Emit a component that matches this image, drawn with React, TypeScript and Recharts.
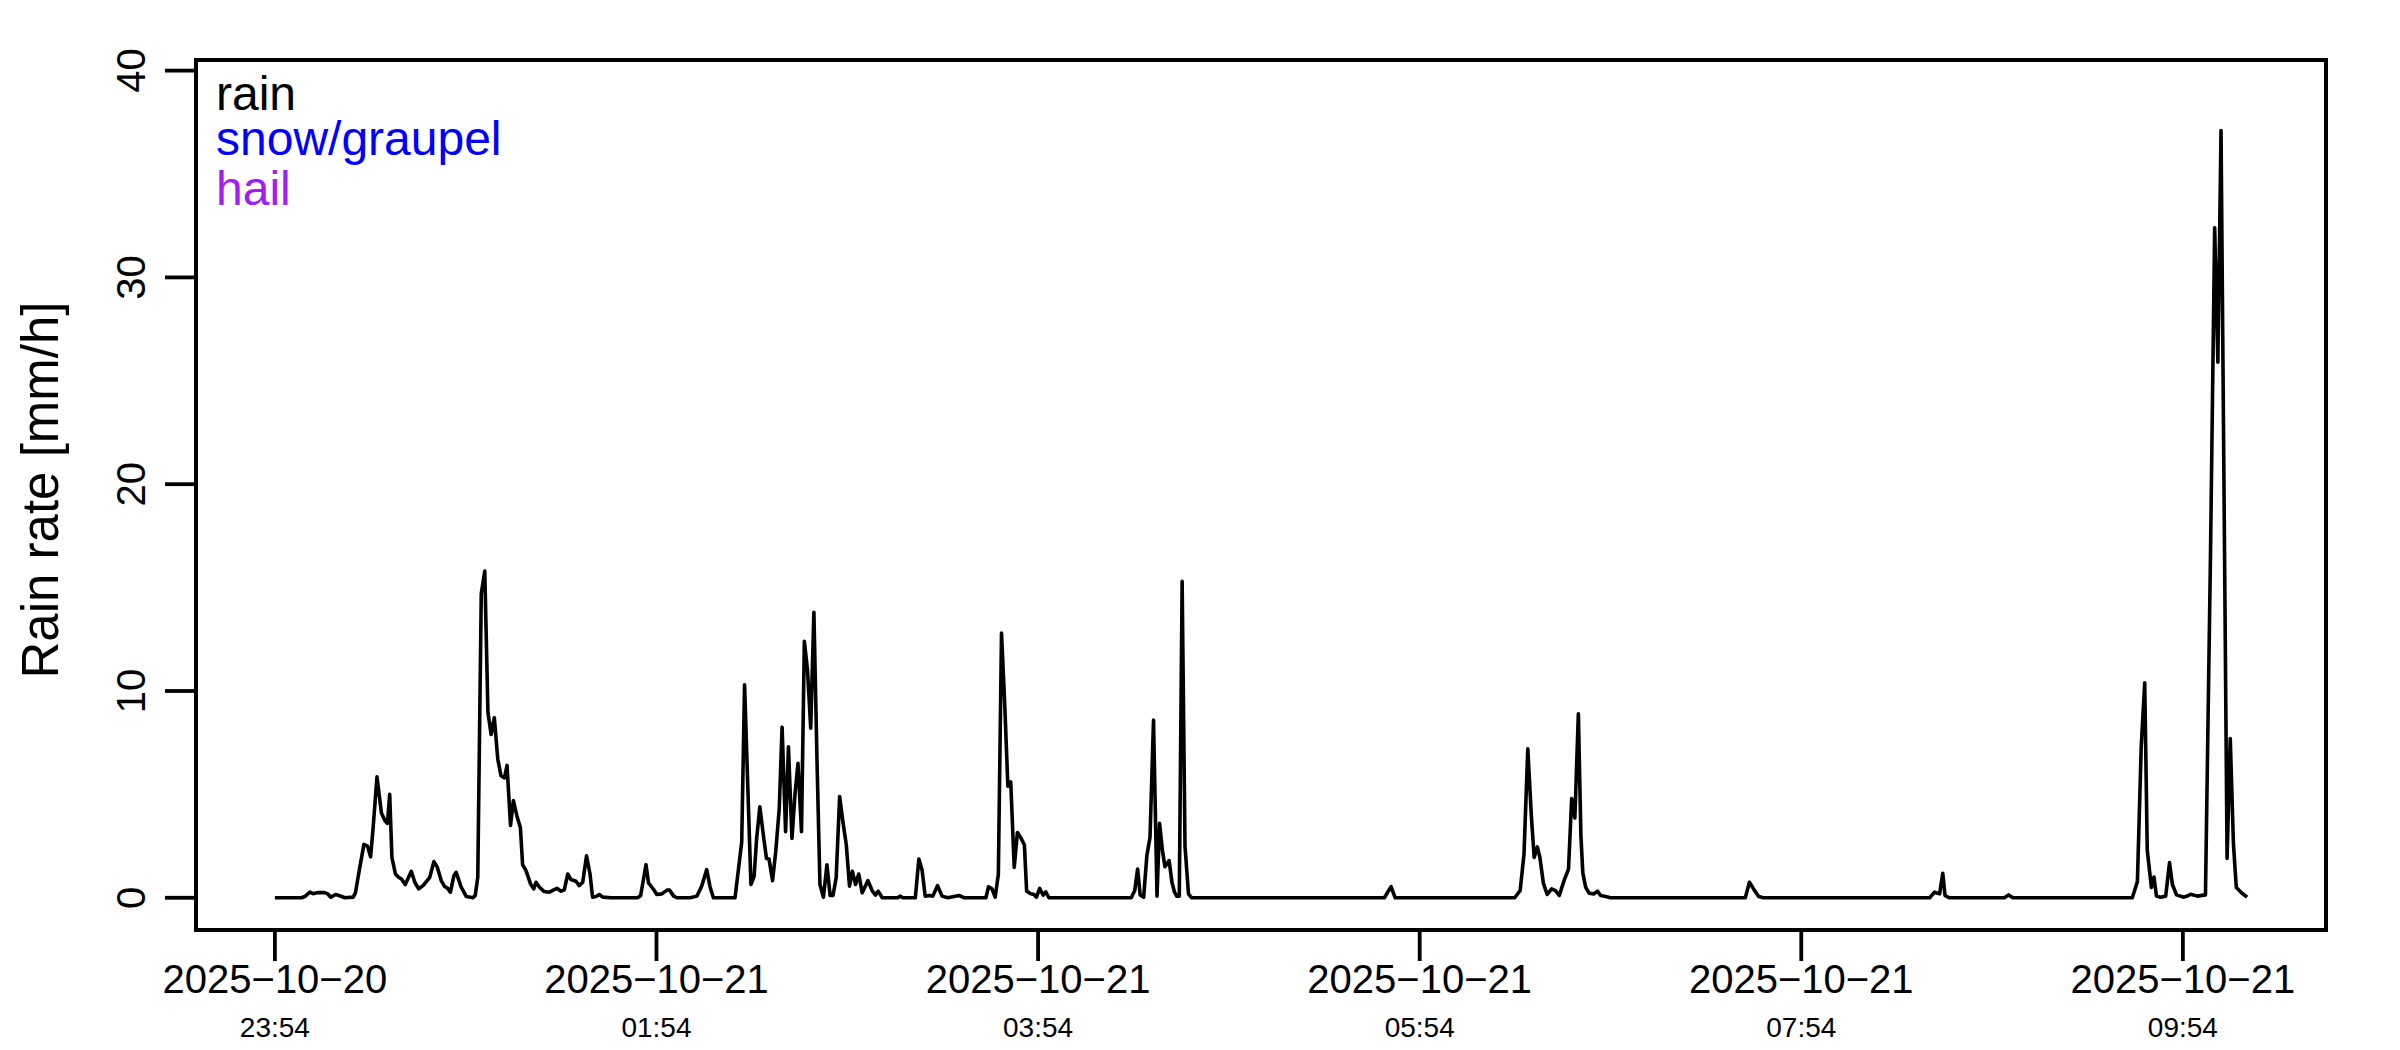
import React from 'react';
import { LineChart, Line, XAxis, YAxis, ReferenceArea } from 'recharts';

const minutes = [
  0, 8.4, 9.4, 11, 12, 13.6, 15.5, 16.5, 17.6, 19.1, 20.4, 22, 24.6, 25.3, 26.7, 28, 29.1, 30.1, 30.9, 32.1,
  33.5, 34.7, 35.4, 36.1, 36.8, 37.9, 38.9, 39.8, 41, 42.9, 44, 45.2, 46.6, 48.7, 50, 51.1, 52.3, 53.4, 54.2, 55.2,
  56.3, 57, 58.6, 60.2, 62.3, 63, 63.8, 64.9, 66, 67, 68, 69, 70.1, 71.1, 72.2, 73, 74.1, 75, 76.2, 77.2,
  77.9, 79, 80.4, 81.4, 82.1, 83.2, 84.7, 86.3, 87.7, 88.7, 90, 91, 92.1, 93.1, 94.7, 95.7, 96.8, 98, 99.1, 99.9,
  101, 102, 103.1, 105.7, 114, 115, 116.7, 117.5, 119.1, 120.1, 121.7, 123.3, 124.1, 125.4, 126.4, 130.6, 132.7, 134.2, 135.8, 136.8,
  137.9, 144.7, 145.7, 146.8, 147.7, 148.5, 149.7, 150.7, 151.5, 152.5, 153.8, 154.6, 155.4, 156.5, 157.5, 158.6, 159.5, 160.6, 161.5, 162.6,
  163.6, 164.5, 165.6, 166.5, 167.5, 168.5, 169.5, 170.5, 171.4, 172.5, 173.6, 174.6, 175.5, 176.5, 177.6, 178.6, 179.7, 180.7, 181.6, 182.6,
  183.6, 184.7, 186.5, 187.8, 188.9, 189.7, 191, 195.9, 196.6, 197.5, 201.4, 202.5, 203.5, 204.5, 205.8, 206.9, 208.4, 209.8, 211.6, 215.2,
  216.8, 223.6, 224.4, 225.5, 226.5, 227.5, 228.5, 229.5, 230.5, 231.4, 232.5, 233.5, 234.7, 235.7, 236.4, 237.7, 238.7, 239.5, 240.5, 241.6,
  242.4, 243.4, 269.3, 270.4, 271.3, 272.1, 273.2, 274.2, 275.2, 276.3, 277.4, 278.2, 279.1, 279.9, 281.2, 282.1, 282.9, 283.6, 284.4, 285.3,
  286.2, 287.3, 288.3, 348.9, 351, 352.3, 389.9, 391.6, 392.8, 394, 395.1, 396, 397, 397.8, 398.9, 400.1, 401.5, 402.7, 403.9, 405.4,
  406.8, 407.8, 408.8, 409.9, 410.7, 411.3, 412.2, 413.3, 414.8, 415.9, 416.9, 418.5, 420, 462.4, 463.7, 465, 466.6, 468.1, 520.4, 521.9,
  523.5, 524.5, 525.2, 526.6, 543.9, 545.2, 546.5, 584.1, 585.7, 586.9, 588, 588.8, 589.6, 590.1, 590.9, 591.7, 593, 594.6, 595.8, 596.7,
  598, 600.3, 601.6, 602.4, 604.5, 607.1, 608.7, 610, 611, 612, 613.9, 614.9, 615.9, 616.8, 618.6, 620.2,
];

const rainRate = [
  0, 0, 0.06, 0.27, 0.2, 0.25, 0.25, 0.2, 0.03, 0.16, 0.1, 0, 0.03, 0.22, 1.47, 2.58, 2.5, 1.98, 3.4, 5.85,
  4.1, 3.7, 3.6, 5.0, 1.95, 1.15, 0.99, 0.91, 0.64, 1.28, 0.75, 0.43, 0.59, 0.99, 1.75, 1.47, 0.83, 0.54, 0.48, 0.27,
  1.07, 1.23, 0.51, 0.06, 0, 0.11, 0.99, 14.7, 15.8, 8.96, 7.9, 8.7, 6.7, 5.9, 5.8, 6.4, 3.5, 4.7, 3.9, 3.4,
  1.6, 1.3, 0.67, 0.43, 0.75, 0.51, 0.3, 0.27, 0.38, 0.46, 0.32, 0.38, 1.15, 0.88, 0.8, 0.59, 0.75, 2.03, 1.15, 0.03,
  0.06, 0.16, 0.03, 0, 0, 0.1, 1.6, 0.72, 0.4, 0.16, 0.19, 0.37, 0.37, 0.08, 0, 0, 0.08, 0.56, 1.36, 0.56,
  0, 0, 1.28, 2.7, 10.3, 6.4, 0.64, 1.04, 2.87, 4.4, 2.8, 1.9, 1.87, 0.83, 2.23, 4.3, 8.25, 3.2, 7.3, 2.87,
  5.1, 6.5, 3.2, 12.4, 11.0, 8.2, 13.8, 6.5, 0.64, 0.03, 1.6, 0.11, 0.11, 0.96, 4.9, 3.7, 2.55, 0.56, 1.28, 0.64,
  1.15, 0.24, 0.83, 0.35, 0.13, 0.32, 0, 0, 0.08, 0, 0, 1.87, 1.36, 0.08, 0.11, 0.08, 0.59, 0.08, 0, 0.11,
  0, 0, 0.53, 0.43, 0.03, 1.12, 12.8, 9.4, 5.4, 5.6, 1.47, 3.16, 2.87, 2.55, 0.32, 0.19, 0.16, 0.03, 0.45, 0.13,
  0.29, 0, 0, 0.35, 1.39, 0.14, 0.03, 2.03, 2.93, 8.6, 0.08, 3.6, 2.3, 1.5, 1.8, 0.75, 0.27, 0.08, 0.08, 15.3,
  2.5, 0.19, 0, 0, 0.54, 0, 0, 0.35, 2.1, 7.2, 4.0, 1.95, 2.46, 1.95, 0.7, 0.16, 0.43, 0.35, 0.11, 0.83,
  1.39, 4.8, 3.86, 8.9, 3.0, 1.2, 0.5, 0.22, 0.19, 0.32, 0.11, 0.06, 0, 0, 0.75, 0.43, 0.06, 0, 0, 0.27,
  0.19, 1.18, 0.11, 0, 0, 0.14, 0, 0, 0.78, 7.3, 10.4, 2.3, 1.2, 0.5, 1.0, 0.08, 0.03, 0.08, 1.7, 0.64,
  0.14, 0.03, 0.1, 0.17, 0.08, 0.14, 16.75, 32.4, 25.9, 37.1, 1.9, 7.7, 2.6, 0.5, 0.22, 0.03,
];

const tickMinutes = [0, 120, 240, 360, 480, 600];
const tickDates = ['2025-10-20', '2025-10-21', '2025-10-21', '2025-10-21', '2025-10-21', '2025-10-21'];
const tickTimes = ['23:54', '01:54', '03:54', '05:54', '07:54', '09:54'];
const yTicks = [0, 10, 20, 30, 40];

const legendLabels = ['rain', 'snow/graupel', 'hail'];
const legendColors = ['#000000', '#0000ff', '#a020f0'];

const data = minutes.map((t, i) => ({ t, rain: rainRate[i] }));

const FONT = '"Liberation Sans", Arial, Helvetica, sans-serif';

// R-style 4% padding around the data range
const tEnd = minutes[minutes.length - 1];
const X_MIN = -0.04 * tEnd;
const X_MAX = 1.04 * tEnd;
const yTop = 1.05 * Math.max(...rainRate);
const Y_MIN = -0.04 * yTop;
const Y_MAX = 1.04 * yTop;

const PLOT_LEFT = 196;
const PLOT_TOP = 60;

function XTick(props: any) {
  const { x, y, index } = props;
  return (
    <g>
      <text x={x} y={y + 30} textAnchor="middle" fontSize={40} fontFamily={FONT} fill="#000">
        {tickDates[index].replace(/-/g, '\u2212')}
      </text>
      <text x={x} y={y + 74} textAnchor="middle" fontSize={28} fontFamily={FONT} fill="#000">
        {tickTimes[index]}
      </text>
    </g>
  );
}

function YTick(props: any) {
  const { x, y, payload } = props;
  const bx = x - 18;
  return (
    <text x={bx} y={y} transform={`rotate(-90, ${bx}, ${y})`} textAnchor="middle" fontSize={40} fontFamily={FONT} fill="#000">
      {payload.value}
    </text>
  );
}

const legendBaselines = [110, 155, 205];

export default function App() {
  return (
    <div style={{ position: 'absolute', left: 0, top: 0, width: 2400, height: 1050, background: '#fff' }}>
      <LineChart width={2400} height={1050} data={data} margin={{ top: PLOT_TOP, right: 74, bottom: 0, left: 0 }}>
        <XAxis
          dataKey="t"
          type="number"
          domain={[X_MIN, X_MAX]}
          allowDataOverflow
          ticks={tickMinutes}
          interval={0}
          height={120}
          axisLine={false}
          tickSize={31}
          tickLine={{ stroke: '#000', strokeWidth: 3.8 }}
          tick={<XTick />}
        />
        <YAxis
          type="number"
          domain={[Y_MIN, Y_MAX]}
          allowDataOverflow
          ticks={yTicks}
          interval={0}
          width={PLOT_LEFT}
          axisLine={false}
          tickSize={31}
          tickLine={{ stroke: '#000', strokeWidth: 3.8 }}
          tick={<YTick />}
        />
        <ReferenceArea
          x1={X_MIN}
          x2={X_MAX}
          y1={Y_MIN}
          y2={Y_MAX}
          fill="none"
          fillOpacity={0}
          stroke="#000"
          strokeWidth={4}
          ifOverflow="visible"
        />
        <Line
          type="linear"
          dataKey="rain"
          stroke="#000"
          strokeWidth={3.6}
          strokeLinejoin="round"
          dot={false}
          activeDot={false}
          isAnimationActive={false}
        />
        <text
          x={58}
          y={490}
          transform="rotate(-90, 58, 490)"
          textAnchor="middle"
          fontSize={51}
          fontFamily={FONT}
          fill="#000"
        >
          Rain rate [mm/h]
        </text>
        <g>
          {legendLabels.map((label, i) => (
            <text key={label} x={PLOT_LEFT + 20} y={legendBaselines[i]} fontSize={48} fontFamily={FONT} fill={legendColors[i]}>
              {label}
            </text>
          ))}
        </g>
      </LineChart>
    </div>
  );
}
